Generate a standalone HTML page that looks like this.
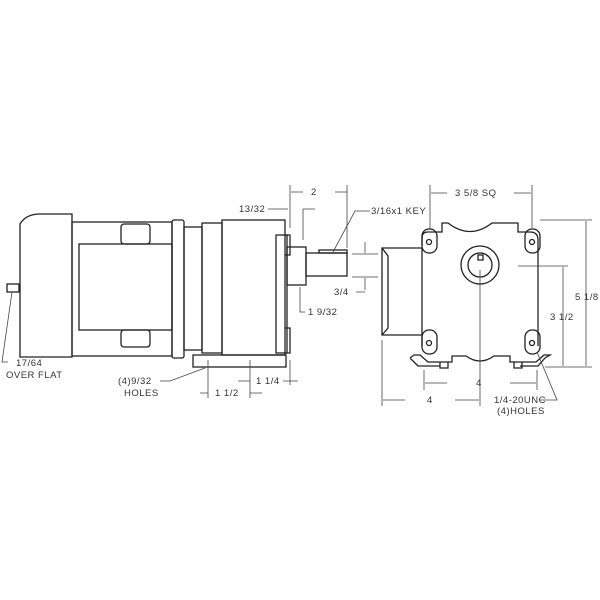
<!DOCTYPE html>
<html><head><style>
html,body{margin:0;padding:0;background:#fff;}
svg{display:block}
text{font-family:"Liberation Sans",sans-serif;font-size:9.5px;fill:#333;letter-spacing:0.5px}
</style></head><body>
<svg width="600" height="600" viewBox="0 0 600 600" xmlns="http://www.w3.org/2000/svg">
<rect width="600" height="600" fill="#fff"/>
<g fill="none" stroke="#222" stroke-width="1.3">
<rect x="7" y="284" width="12" height="8"/>
<path d="M20 357 V224 Q26 214 40 214 H72 V357 Z"/>
<rect x="72" y="222" width="100" height="134"/>
<rect x="79" y="244" width="93" height="86"/>
<rect x="121" y="224" width="29" height="20" rx="3"/>
<rect x="121" y="330" width="29" height="17" rx="3"/>
<rect x="172" y="220" width="12" height="138" rx="2"/>
<rect x="184" y="227" width="18" height="123"/>
<rect x="202" y="223" width="20" height="130"/>
<rect x="222" y="220" width="63" height="135"/>
<rect x="276" y="235" width="11" height="118"/>
<path d="M285 235 H290 V255 H285 M285 328 H290 V353 H285"/>
<rect x="287" y="247" width="19" height="38"/>
<rect x="306" y="253" width="41" height="23"/>
<rect x="319" y="250" width="28" height="3"/>
<rect x="193" y="355" width="93" height="12"/>
<path d="M422 335 V248 H382 V335 Z M382 248 L388 256 V328 L382 335"/>
<path d="M422 245 V238 Q422 232 428 232 H442 V223 H448 Q470 240 492 223 H518 V232 H530 Q538 232 538 240 V346"/>
<path d="M422 335 V346"/>
<rect x="422" y="229" width="15" height="24" rx="7"/>
<rect x="525" y="229" width="15" height="24" rx="7"/>
<rect x="422" y="330" width="15" height="24" rx="7"/>
<rect x="525" y="330" width="15" height="24" rx="7"/>
<circle cx="429" cy="242" r="2.5"/><circle cx="532" cy="242" r="2.5"/>
<circle cx="429" cy="343" r="2.5"/><circle cx="532" cy="343" r="2.5"/>
<circle cx="480" cy="265" r="19"/>
<circle cx="480" cy="265" r="12"/>
<rect x="478" y="255" width="5" height="5"/>
<path d="M410 358 L414 355 H420 L428 362 H452 V356 H466 Q480 366 494 356 H510 V362 H536 L544 355 H550 L545 358 L538 366 H520 M410 358 L418 366 H440"/>
<path d="M440 362 V368 H448 V362 M514 362 V368 H522 V362"/>
</g>
<g fill="none" stroke="#444" stroke-width="0.8">
<path d="M290 185 V228 M347 185 V248 M291 192 H303 M335 192 H347"/>
<path d="M268 209 H288 M303 209 V240 M303 209 H315"/>
<path d="M333 252 L355 211 H370"/>
<path d="M352 254 H378 M352 277 H378 M365 242 V253 M365 278 V290 M356 292 H365"/>
<path d="M300 287 V312 H305"/>
<path d="M208 360 V398 M250 360 V398 M290 360 V385 M238 381 H250 M283 381 H298 M200 393 H208 M250 393 H262"/>
<path d="M160 381 H170 L205 368"/>
<path d="M12 292 L2 362 H8"/>
<path d="M430 185 V230 M532 185 V228 M431 193 H447 M514 193 H531"/>
<path d="M540 220 H592 M586 221 V366 M545 367 H592"/>
<path d="M518 266 H568 M563 267 V366"/>
<path d="M424 370 V390 M537 370 V390 M425 383 H447 M510 383 H536"/>
<path d="M382 340 V406 M480 270 V406 M383 400 H405 M455 400 H479"/>
<path d="M537 352 L557 400 H540"/>
</g>
<g>
<text x="311" y="195">2</text>
<text x="239" y="212">13/32</text>
<text x="371" y="214">3/16x1 KEY</text>
<text x="334" y="295">3/4</text>
<text x="308" y="315">1 9/32</text>
<text x="256" y="384">1 1/4</text>
<text x="215" y="396">1 1/2</text>
<text x="118" y="384">(4)9/32</text>
<text x="124" y="396">HOLES</text>
<text x="16" y="366">17/64</text>
<text x="6" y="378">OVER FLAT</text>
<text x="455" y="196">3 5/8 SQ</text>
<text x="575" y="300">5 1/8</text>
<text x="550" y="320">3 1/2</text>
<text x="476" y="386">4</text>
<text x="427" y="403">4</text>
<text x="494" y="403">1/4-20UNC</text>
<text x="497" y="414">(4)HOLES</text>
</g>
</svg>
</body></html>
